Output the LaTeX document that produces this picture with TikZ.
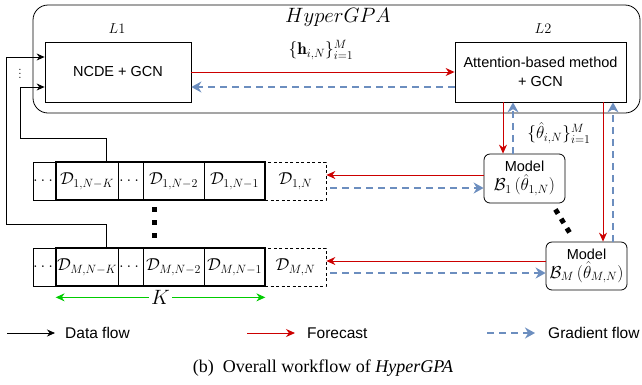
\documentclass[tikz,border=0pt]{standalone}
\usepackage{amsmath}
\usepackage{amssymb}
\usepackage{fontspec}
\setsansfont{Liberation Sans}
\newfontfamily\capfont{Liberation Serif}
\usepackage{tikz}
\usetikzlibrary{arrows.meta,calc}
\definecolor{fcred}{HTML}{CC0000}
\definecolor{grblue}{HTML}{6C8EBF}
\definecolor{kgreen}{HTML}{00CC00}
\tikzstyle{procbox} = [draw=black, line width=0.8pt, rectangle, minimum width=146pt, minimum height=60pt, align=center, font=\sffamily\fontsize{14.5}{18.5}\selectfont]
\tikzstyle{modelbox} = [draw=black, line width=0.8pt, rectangle, rounded corners=6pt, minimum width=81pt, minimum height=49pt, inner sep=1pt, align=center, font=\sffamily\fontsize{14.5}{19}\selectfont]
\tikzstyle{cell} = [draw=black, line width=0.7pt, rectangle, minimum height=38pt, inner sep=0pt, font=\fontsize{16.5}{19}\selectfont]
\tikzstyle{newcell} = [cell, dash pattern=on 3pt off 2.5pt]
\tikzstyle{dflow} = [draw=black, line width=0.8pt, -{Stealth[length=8pt,width=7pt]}]
\tikzstyle{fcast} = [draw=fcred, line width=1pt, -{Stealth[length=9pt,width=8pt]}]
\tikzstyle{grad} = [draw=grblue, line width=2pt, dash pattern=on 7pt off 5pt, -{Stealth[length=10pt,width=11pt]}]
\tikzstyle{kspan} = [draw=kgreen, line width=1pt, {Stealth[length=9pt,width=8pt]}-{Stealth[length=9pt,width=8pt]}]
\tikzstyle{bigdots} = [draw=black, line width=5pt, dash pattern=on 5pt off 8pt]
\tikzstyle{legend} = [anchor=west, inner sep=0pt, font=\sffamily\fontsize{15.5}{18}\selectfont]
\tikzstyle{setlab} = [font=\fontsize{17}{20}\selectfont]

\begin{document}
\begin{tikzpicture}[x=1pt, y=-1pt, font=\fontsize{15}{18}\selectfont]
\useasboundingbox (0,0) rectangle (642,384);

% blocco HyperGPA
\node [draw=black, line width=0.8pt, rounded corners=15pt, minimum width=607pt, minimum height=108pt, inner sep=0pt] (hyper) at (336.5,59) {};
\node (title) at (338,17) {\fontsize{22}{26}\selectfont $HyperGPA$};
\node (l1) at (117,29) {$L1$};
\node (l2) at (543,29) {$L2$};
\node [procbox] (ncde) at (118,72) {NCDE + GCN};
\node [procbox, minimum width=171pt] (att) at (540.5,72) {Attention-based method\\+ GCN};
\node [setlab] (hlab) at (321,50) {$\{\mathbf{h}_{i,N}\}_{i=1}^{M}$};
\node (vd) at (20,71) {$\vdots$};

% finestre dei dati
\node [cell, minimum width=23pt] (c1a) at (44.5,181) {$\dots$};
\node [cell, minimum width=62pt] (c1k) at (87,181) {$\mathcal{D}_{1,N-K}$};
\node [cell, minimum width=25pt] (c1b) at (130.5,181) {$\dots$};
\node [cell, minimum width=61pt] (c1n2) at (173.5,181) {$\mathcal{D}_{1,N-2}$};
\node [cell, minimum width=61pt] (c1n1) at (234.5,181) {$\mathcal{D}_{1,N-1}$};
\node [newcell, minimum width=61pt] (c1n) at (295.5,181) {$\mathcal{D}_{1,N}$};
\draw [line width=2.2pt] (c1k.north west) rectangle (c1n1.south east);

\node [cell, minimum width=23pt] (cMa) at (44.5,267) {$\dots$};
\node [cell, minimum width=62pt] (cMk) at (87,267) {$\mathcal{D}_{M,N-K}$};
\node [cell, minimum width=25pt] (cMb) at (130.5,267) {$\dots$};
\node [cell, minimum width=61pt] (cMn2) at (173.5,267) {$\mathcal{D}_{M,N-2}$};
\node [cell, minimum width=61pt] (cMn1) at (234.5,267) {$\mathcal{D}_{M,N-1}$};
\node [newcell, minimum width=61pt] (cMn) at (295.5,267) {$\mathcal{D}_{M,N}$};
\draw [line width=2.2pt] (cMk.north west) rectangle (cMn1.south east);

\draw [bigdots] (154,207) -- (154,240);
\coordinate (kl) at ($(cMk.south west)+(0,11)$);
\coordinate (kr) at ($(cMn1.south east)+(0,11)$);
\draw [kspan] (kl) -- (kr) node [midway, fill=white, inner sep=2pt] (klab) {\fontsize{21}{24}\selectfont $K$};

% modelli
\node [modelbox] (b1) at (524.5,178.5) {Model\\{\fontsize{16.5}{19}\selectfont$\mathcal{B}_1\,(\hat{\theta}_{1,N})$}};
\node [modelbox, minimum height=48pt] (bM) at (586.5,266) {Model\\{\fontsize{16.5}{19}\selectfont$\mathcal{B}_M\,(\hat{\theta}_{M,N})$}};
\draw [bigdots, dash pattern=on 5pt off 6pt] ($(b1.south east)+(-10,6)$) -- ($(bM.north west)+(24,-9)$);
\node [setlab] (thlab) at (559,133) {$\{\hat{\theta}_{i,N}\}_{i=1}^{M}$};

% flussi
\draw [dflow] ($(cMk.north)+(19,0)$) -- ++(0,-23) -| ($(ncde.west)+(-38,-15)$) -- ($(ncde.west)+(0,-15)$);
\draw [dflow] ($(c1k.north)+(19,0)$) -- ++(0,-23) -| ($(ncde.west)+(-24,15)$) -- ($(ncde.west)+(0,15)$);
\draw [fcast] (ncde.east) -- (att.west |- ncde.east);
\draw [grad] ($(att.west)+(0,15)$) -- ($(ncde.east)+(0,15)$);
\draw [fcast] ($(b1.north |- att.south)+(-21.5,0)$) -- ($(b1.north)+(-21.5,0)$);
\draw [grad] ($(b1.north)+(-11.5,0)$) -- ($(b1.north |- att.south)+(-11.5,0)$);
\draw [fcast] ($(bM.north |- att.south)+(16.5,0)$) -- ($(bM.north)+(16.5,0)$);
\draw [grad] ($(bM.north)+(26.5,0)$) -- ($(bM.north |- att.south)+(26.5,0)$);
\coordinate (b1r) at ($(b1.west)+(0,-3.5)$);
\coordinate (b1g) at ($(b1.west)+(0,9.5)$);
\draw [fcast] (b1r) -- (b1r -| c1n.east);
\draw [grad] ($(b1g -| c1n.east)+(4,0)$) -- (b1g);
\coordinate (bMr) at ($(bM.west)+(0,-5)$);
\coordinate (bMg) at ($(bM.west)+(0,7)$);
\draw [fcast] (bMr) -- (bMr -| cMn.east);
\draw [grad] ($(bMg -| cMn.east)+(4,0)$) -- (bMg);

% legenda
\coordinate (lgA) at (7,333);
\node [legend] (lgAt) at (65,333) {Data flow};
\draw [dflow] (lgA) -- ($(lgAt.west)+(-10,0)$);
\coordinate (lgB) at (247,333);
\node [legend] (lgBt) at (307,333) {Forecast};
\draw [fcast] (lgB) -- ($(lgBt.west)+(-12,0)$);
\coordinate (lgC) at (487,333);
\node [legend] (lgCt) at (548,333) {Gradient flow};
\draw [grad] (lgC) -- ($(lgCt.west)+(-13,0)$);

\node (capt) at (323,368) {\capfont\fontsize{18}{21}\selectfont (b)\ \ Overall workflow of \textit{HyperGPA}};
\end{tikzpicture}
\end{document}
